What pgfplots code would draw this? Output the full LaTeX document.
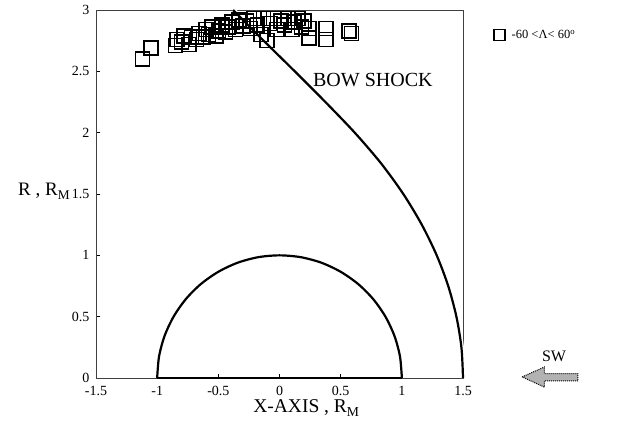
\documentclass[border=0pt]{standalone}
\usepackage{pgfplots}
\pgfplotsset{compat=1.18}
\usepackage{fontspec}
\setmainfont{Liberation Serif}
\begin{document}
\begin{tikzpicture}
\begin{axis}[
  scale only axis, width=367bp, height=368bp,
  xmin=-1.5, xmax=1.5, ymin=0, ymax=3,
  xtick={-1.5,-1,-0.5,0,0.5,1,1.5},
  ytick={0,0.5,1,1.5,2,2.5,3},
  tick align=inside, xtick pos=bottom, ytick pos=left,
  major tick length=4bp,
  axis line style={line width=0.8bp, black!75},
  tick style={black, line width=0.6bp},
  ticklabel style={font=\fontsize{14bp}{16bp}\selectfont},
  yticklabel style={xshift=-3bp},
  xticklabel style={yshift=-5bp},
  /pgf/number format/assume math mode=true,
  clip=false,
  legend style={at={(rel axis cs:1.075,0.957)}, anchor=north west, draw=none, fill=none,
    font=\fontsize{12.5bp}{14bp}\selectfont},
  legend image post style={mark size=5.5bp},
]
% observations
\addplot[only marks, mark=square, mark size=7bp, mark options={draw=black, fill=none, line width=1.6bp}]
coordinates {
(-1.12,2.60) (-1.05,2.69)
(-0.85,2.71) (-0.84,2.76) (-0.80,2.74) (-0.78,2.79) (-0.74,2.72) (-0.72,2.78)
(-0.68,2.76) (-0.66,2.81) (-0.62,2.78) (-0.60,2.84) (-0.58,2.80) (-0.55,2.86)
(-0.52,2.79) (-0.50,2.83) (-0.47,2.88) (-0.44,2.82) (-0.42,2.86) (-0.39,2.90)
(-0.36,2.84) (-0.33,2.92) (-0.30,2.87) (-0.27,2.91) (-0.24,2.85) (-0.21,2.93)
(-0.18,2.88) (-0.15,2.80) (-0.13,2.93) (-0.10,2.75) (-0.08,2.89) (-0.05,2.93)
(-0.02,2.84) (0.01,2.91) (0.04,2.88) (0.07,2.93) (0.10,2.84) (0.12,2.90)
(0.15,2.93) (0.18,2.86) (0.20,2.91) (0.24,2.85) (0.24,2.77)
(0.38,2.85) (0.38,2.76) (0.57,2.83) (0.59,2.81)
};
\addlegendentry{\hspace{5bp}-60 <Λ< 60\textsuperscript{o}}
% bow shock (white casing + black line)
\addplot[white, line width=5bp, smooth, forget plot] coordinates {
(1.5,0) (1.487,0.25) (1.446,0.5) (1.379,0.75) (1.285,1.0) (1.163,1.25) (1.012,1.5)
(0.830,1.75) (0.615,2.0) (0.375,2.25) (0.125,2.5) (-0.13,2.75) (-0.38,3.0)};
\addplot[black, line width=2.2bp, smooth, forget plot] coordinates {
(1.5,0) (1.487,0.25) (1.446,0.5) (1.379,0.75) (1.285,1.0) (1.163,1.25) (1.012,1.5)
(0.830,1.75) (0.615,2.0) (0.375,2.25) (0.125,2.5) (-0.13,2.75) (-0.38,3.0)};
% planet (semicircle)
\addplot[black, line width=2.2bp, smooth, forget plot] coordinates {
(1,0) (0.985,0.174) (0.940,0.342) (0.866,0.5) (0.766,0.643) (0.643,0.766)
(0.5,0.866) (0.342,0.940) (0.174,0.985) (0,1) (-0.174,0.985) (-0.342,0.940)
(-0.5,0.866) (-0.643,0.766) (-0.766,0.643) (-0.866,0.5) (-0.940,0.342)
(-0.985,0.174) (-1,0)};
\addplot[black, line width=2.2bp, forget plot] coordinates {(-1,0) (1,0)};
% annotations
\node[anchor=base west, font=\fontsize{20bp}{24bp}\selectfont, inner sep=0pt]
  at (rel axis cs:0.591,0.791) {BOW SHOCK};
\node[anchor=base west, font=\fontsize{19bp}{22bp}\selectfont, inner sep=0pt]
  at (rel axis cs:-0.2125,0.4946) {R , R\textsubscript{M}};
\node[anchor=base west, font=\fontsize{19.5bp}{22bp}\selectfont, inner sep=0pt]
  at (rel axis cs:0.428,-0.095) {X-AXIS , R\textsubscript{M}};
\node[anchor=base, font=\fontsize{16bp}{18bp}\selectfont, inner sep=0pt]
  at (rel axis cs:1.248,0.045) {SW};
\filldraw[fill=gray!60, draw=black, densely dotted, line width=1bp]
  (rel axis cs:1.161,0.003) -- (rel axis cs:1.222,0.030) -- (rel axis cs:1.222,0.012)
  -- (rel axis cs:1.313,0.012) -- (rel axis cs:1.313,-0.008) -- (rel axis cs:1.222,-0.008)
  -- (rel axis cs:1.222,-0.025) -- cycle;
% page frame
\path (rel axis cs:-0.2616,-0.1712) rectangle (rel axis cs:1.4332,1.0272);
\end{axis}
\end{tikzpicture}
\end{document}
